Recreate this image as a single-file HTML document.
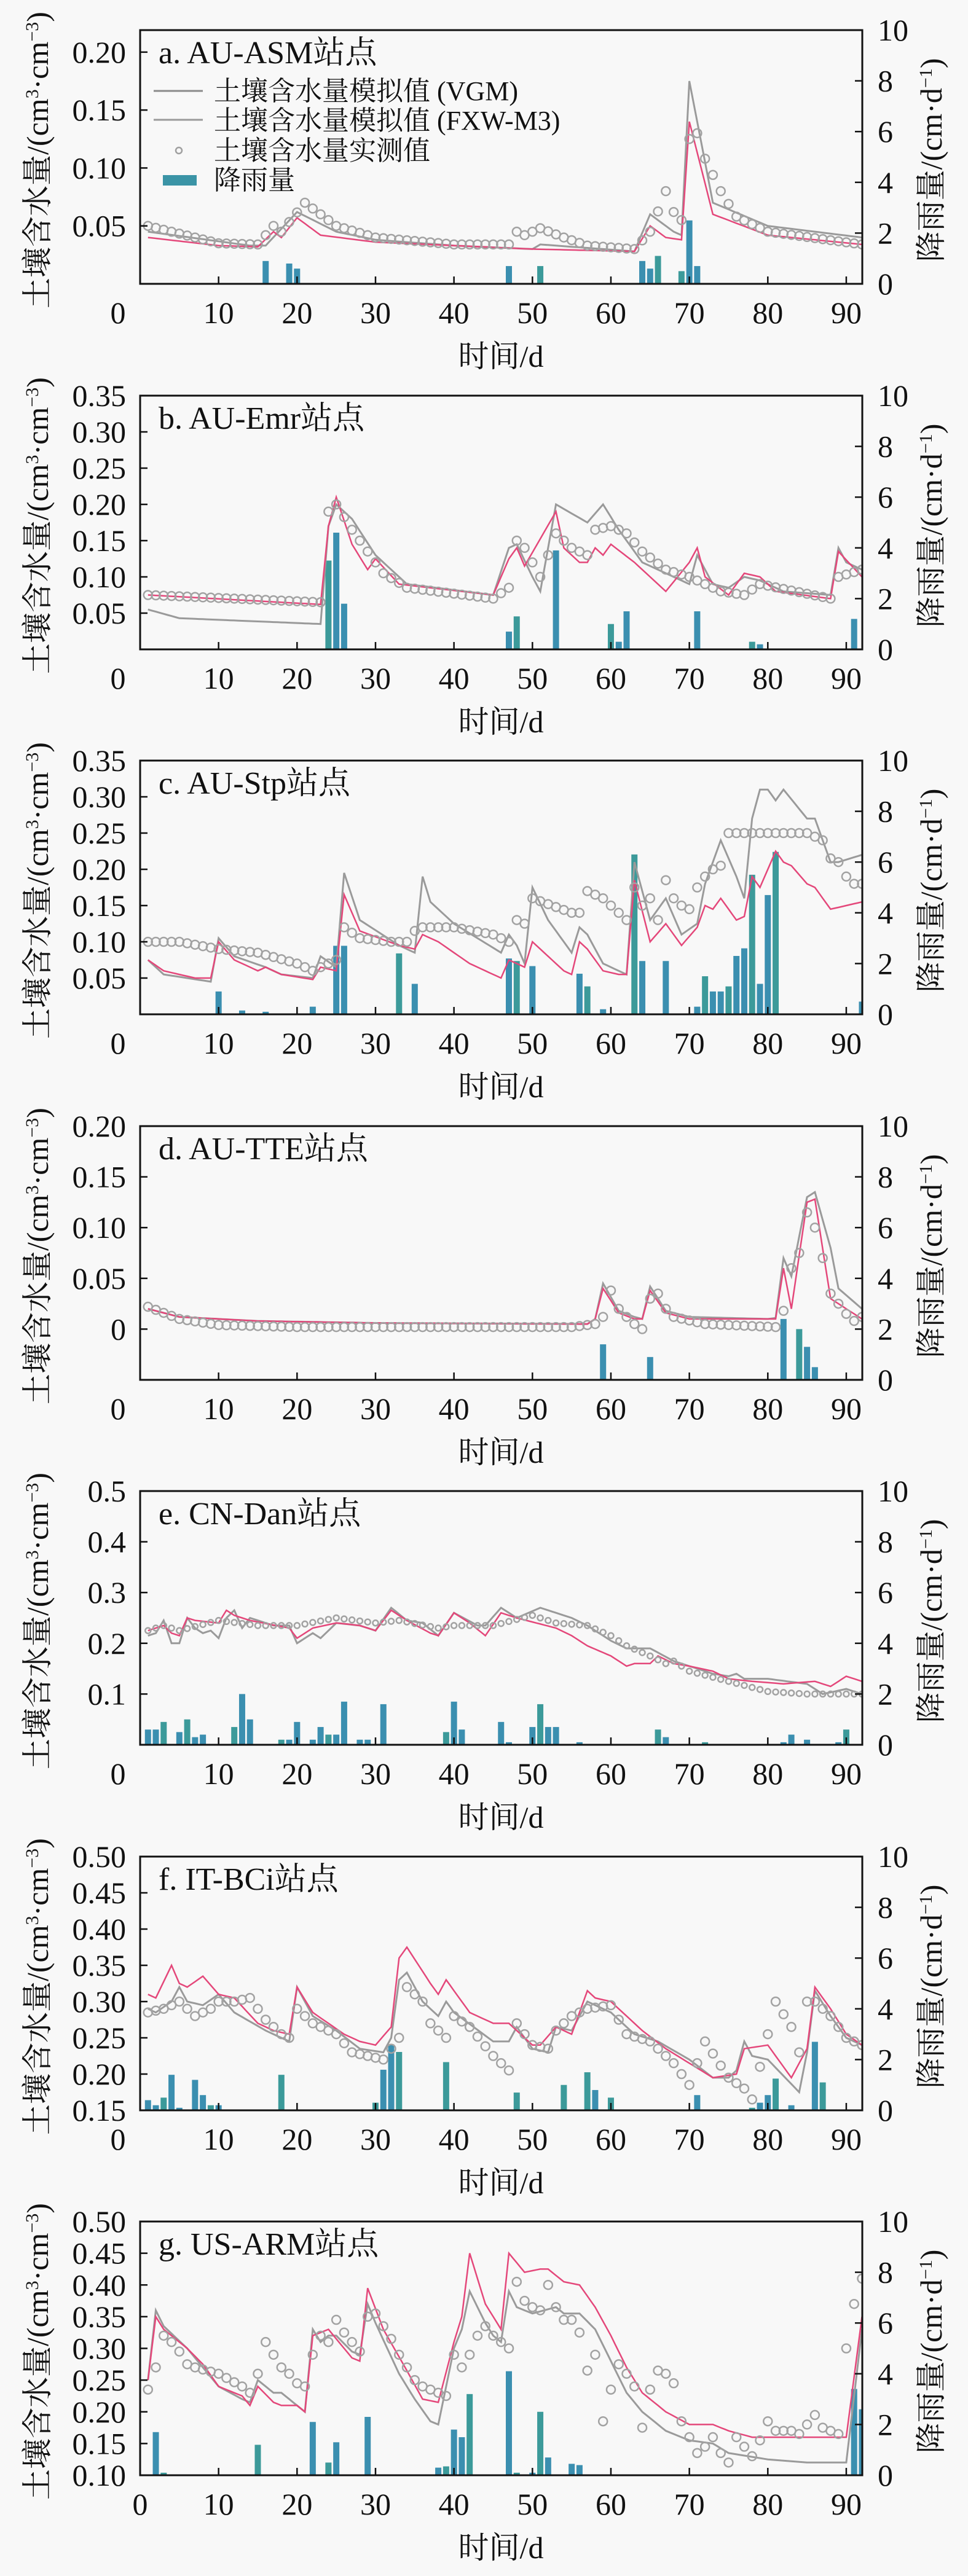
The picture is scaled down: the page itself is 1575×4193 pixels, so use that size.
<!DOCTYPE html>
<html><head><meta charset="utf-8">
<style>
html,body{margin:0;padding:0;background:#f8f8f8;}
svg{display:block;}
text{font-family:"Liberation Serif","Noto Serif CJK SC","Noto Sans CJK SC",serif;fill:#111;}
</style></head>
<body>
<svg id="s" width="1575" height="4193" xmlns="http://www.w3.org/2000/svg">
<rect width="1575" height="4193" fill="#f8f8f8"/>
<g id="static">
<text x="258" y="103" font-size="52">a. AU-ASM站点</text>
<text x="258" y="698" font-size="52">b. AU-Emr站点</text>
<text x="258" y="1292" font-size="52">c. AU-Stp站点</text>
<text x="258" y="1887" font-size="52">d. AU-TTE站点</text>
<text x="258" y="2481" font-size="52">e. CN-Dan站点</text>
<text x="258" y="3076" font-size="52">f. IT-BCi站点</text>
<text x="258" y="3670" font-size="52">g. US-ARM站点</text>
<line x1="250" y1="148" x2="330" y2="148" stroke="#8a8a8a" stroke-width="3"/>
<line x1="250" y1="195" x2="330" y2="195" stroke="#9a9a9a" stroke-width="3"/>
<circle cx="291" cy="245" r="5" fill="none" stroke="#a0a0a0" stroke-width="2.5"/>
<rect x="265" y="285" width="55" height="17" fill="#3b94a6"/>
<text x="348" y="163" font-size="44">土壤含水量模拟值 (VGM)</text>
<text x="348" y="211" font-size="44">土壤含水量模拟值 (FXW-M3)</text>
<text x="348" y="260" font-size="44">土壤含水量实测值</text>
<text x="348" y="308" font-size="44">降雨量</text>
</g>
<g id="dyn"></g>
</svg>
<script>
var NS="http://www.w3.org/2000/svg";
var dyn=document.getElementById("dyn");
function el(t,a,p){var e=document.createElementNS(NS,t);for(var k in a)e.setAttribute(k,a[k]);(p||dyn).appendChild(e);return e;}
function txt(x,y,s,sz,anc,rot){var a={x:x,y:y,"font-size":sz};if(anc)a["text-anchor"]=anc;if(rot)a.transform=rot;var e=el("text",a);e.textContent=s;return e;}
var L=228,R=1403,H=413;
function X(d){return L+d*12.766;}
function interp(pts,d){if(d<=pts[0][0])return pts[0][1];for(var i=1;i<pts.length;i++){if(d<=pts[i][0]){var a=pts[i-1],b=pts[i];return a[1]+(b[1]-a[1])*(d-a[0])/(b[0]-a[0]);}}return pts[pts.length-1][1];}
var P=[
{ymin:0,ymax:0.219,ticks:[[0.05,"0.05"],[0.10,"0.10"],[0.15,"0.15"],[0.20,"0.20"]],r:7,
gray:[[1,0.045],[14,0.033],[16,0.033],[20,0.062],[25,0.045],[30,0.038],[40,0.033],[50,0.030],[51,0.034],[53,0.033],[63,0.028],[65,0.060],[68,0.045],[69,0.042],[70,0.175],[73,0.070],[80,0.050],[92,0.040]],
pink:[[1,0.040],[10,0.033],[15,0.032],[17,0.045],[18,0.040],[20,0.057],[23,0.042],[30,0.036],[50,0.030],[63,0.028],[65,0.050],[67,0.040],[69,0.038],[70,0.140],[73,0.060],[80,0.042],[92,0.034]],
obs:[[1,0.050],[10,0.035],[15,0.034],[17,0.050],[18,0.045],[21,0.070],[25,0.050],[30,0.040],[40,0.034],[47,0.034],[48,0.045],[49,0.042],[51,0.048],[54,0.040],[57,0.033],[63,0.030],[65,0.045],[67,0.080],[68,0.062],[69,0.055],[70,0.125],[71,0.130],[72,0.108],[74,0.080],[76,0.058],[80,0.045],[92,0.034]],
bars:[[16,0.9],[19,0.8],[20,0.6],[47,0.7],[51,0.7],[64,0.9],[65,0.6],[66,1.1],[69,0.5],[70,2.5],[71,0.7]]},
{ymin:0,ymax:0.35,ticks:[[0.05,"0.05"],[0.10,"0.10"],[0.15,"0.15"],[0.20,"0.20"],[0.25,"0.25"],[0.30,"0.30"],[0.35,"0.35"]],r:7,
gray:[[1,0.055],[5,0.043],[23,0.035],[24,0.17],[25,0.2],[27,0.18],[30,0.13],[34,0.09],[45,0.075],[47,0.14],[48,0.145],[50,0.1],[51,0.08],[53,0.2],[57,0.175],[59,0.2],[61,0.165],[64,0.12],[70,0.09],[71,0.13],[73,0.09],[75,0.085],[77,0.1],[79,0.095],[82,0.08],[88,0.075],[89,0.14],[90,0.12],[92,0.11]],
pink:[[1,0.075],[23,0.062],[24,0.17],[25,0.21],[27,0.145],[29,0.11],[30,0.125],[33,0.09],[45,0.075],[47,0.125],[48,0.14],[49,0.115],[53,0.19],[54,0.14],[56,0.12],[57,0.12],[58,0.14],[59,0.13],[60,0.145],[63,0.12],[67,0.08],[70,0.12],[71,0.14],[72,0.1],[75,0.075],[77,0.105],[79,0.1],[81,0.08],[88,0.07],[89,0.135],[92,0.10]],
obs:[[1,0.075],[23,0.065],[24,0.19],[25,0.2],[27,0.165],[29,0.135],[31,0.105],[34,0.085],[45,0.07],[47,0.085],[48,0.15],[49,0.14],[50,0.12],[51,0.1],[53,0.16],[55,0.14],[57,0.13],[58,0.165],[60,0.17],[62,0.16],[64,0.135],[67,0.11],[70,0.1],[74,0.08],[77,0.075],[79,0.09],[88,0.07],[89,0.1],[92,0.11]],
bars:[[24,3.5],[25,4.6],[26,1.8],[47,0.7],[48,1.3],[53,3.9],[60,1.0],[61,0.3],[62,1.5],[71,1.5],[78,0.3],[79,0.2],[91,1.2]]},
{ymin:0,ymax:0.35,ticks:[[0.05,"0.05"],[0.10,"0.10"],[0.15,"0.15"],[0.20,"0.20"],[0.25,"0.25"],[0.30,"0.30"],[0.35,"0.35"]],r:7,
gray:[[1,0.075],[3,0.055],[9,0.045],[10,0.105],[12,0.08],[16,0.065],[18,0.055],[22,0.05],[23,0.08],[25,0.065],[26,0.195],[28,0.13],[33,0.095],[35,0.085],[36,0.19],[37,0.155],[40,0.125],[46,0.085],[47,0.11],[48,0.095],[49,0.07],[50,0.175],[52,0.13],[55,0.085],[56,0.12],[57,0.11],[59,0.07],[61,0.06],[62,0.055],[63,0.21],[65,0.13],[67,0.16],[69,0.11],[71,0.125],[72,0.18],[74,0.24],[76,0.19],[77,0.16],[78,0.27],[79,0.31],[80,0.31],[81,0.295],[82,0.31],[85,0.27],[86,0.27],[88,0.21],[89,0.21],[92,0.22]],
pink:[[1,0.075],[3,0.06],[7,0.05],[9,0.05],[10,0.1],[12,0.075],[15,0.06],[16,0.065],[18,0.055],[22,0.048],[23,0.065],[25,0.06],[26,0.165],[28,0.115],[33,0.095],[35,0.09],[36,0.11],[38,0.1],[42,0.07],[46,0.05],[47,0.075],[48,0.07],[49,0.065],[50,0.1],[52,0.08],[54,0.06],[55,0.055],[56,0.1],[57,0.09],[59,0.06],[61,0.055],[62,0.055],[63,0.185],[65,0.1],[67,0.125],[69,0.095],[71,0.12],[72,0.15],[73,0.145],[74,0.16],[76,0.13],[77,0.135],[78,0.19],[79,0.175],[81,0.225],[82,0.21],[83,0.205],[85,0.18],[86,0.175],[88,0.145],[92,0.155]],
obs:[[1,0.1],[5,0.1],[10,0.09],[15,0.085],[20,0.07],[22,0.06],[23,0.065],[25,0.075],[26,0.12],[28,0.105],[32,0.1],[34,0.1],[35,0.115],[36,0.12],[40,0.12],[45,0.11],[47,0.1],[48,0.13],[49,0.125],[50,0.16],[55,0.14],[56,0.14],[57,0.17],[59,0.16],[61,0.14],[62,0.13],[63,0.175],[64,0.15],[65,0.16],[66,0.13],[67,0.185],[68,0.16],[69,0.15],[70,0.145],[71,0.175],[72,0.19],[73,0.2],[74,0.205],[75,0.25],[85,0.25],[87,0.24],[88,0.215],[89,0.21],[90,0.19],[91,0.18],[92,0.18]],
bars:[[10,0.9],[13,0.15],[16,0.1],[22,0.3],[25,2.7],[26,2.7],[33,2.4],[35,1.2],[47,2.2],[48,2.1],[50,1.9],[56,1.6],[57,1.1],[59,0.2],[63,6.3],[64,2.1],[67,2.1],[71,0.3],[72,1.5],[73,0.9],[74,0.9],[75,1.1],[76,2.3],[77,2.6],[78,5.5],[79,1.2],[80,4.7],[81,6.4],[92,0.5]]},
{ymin:-0.05,ymax:0.20,ticks:[[0,"0"],[0.05,"0.05"],[0.10,"0.10"],[0.15,"0.15"],[0.20,"0.20"]],r:7,
gray:[[1,0.02],[5,0.012],[15,0.008],[30,0.006],[57,0.005],[58,0.01],[59,0.045],[61,0.018],[63,0.012],[64,0.01],[65,0.042],[67,0.018],[70,0.012],[80,0.01],[81,0.011],[82,0.07],[83,0.052],[85,0.13],[86,0.135],[88,0.08],[89,0.04],[92,0.02]],
pink:[[1,0.02],[5,0.012],[15,0.008],[30,0.006],[57,0.005],[58,0.01],[59,0.04],[61,0.016],[63,0.01],[64,0.01],[65,0.038],[67,0.016],[70,0.01],[81,0.01],[82,0.06],[83,0.02],[85,0.125],[86,0.128],[88,0.03],[92,0.01]],
obs:[[1,0.022],[5,0.01],[10,0.004],[20,0.002],[55,0.002],[58,0.005],[59,0.012],[60,0.038],[61,0.02],[62,0.012],[63,0.005],[64,0.0],[65,0.03],[66,0.035],[67,0.02],[68,0.012],[72,0.005],[81,0.002],[82,0.018],[83,0.06],[84,0.075],[85,0.115],[86,0.1],[87,0.07],[88,0.035],[89,0.025],[90,0.015],[91,0.008],[92,0.012]],
bars:[[59,1.4],[65,0.9],[82,2.4],[84,2.0],[85,1.3],[86,0.5]]},
{ymin:0,ymax:0.5,ticks:[[0.1,"0.1"],[0.2,"0.2"],[0.3,"0.3"],[0.4,"0.4"],[0.5,"0.5"]],r:4.5,
gray:[[1,0.215],[2,0.22],[3,0.245],[4,0.2],[5,0.2],[6,0.25],[7,0.23],[8,0.22],[9,0.225],[10,0.21],[11,0.25],[12,0.265],[13,0.23],[14,0.25],[17,0.235],[19,0.235],[20,0.2],[22,0.22],[23,0.21],[25,0.24],[28,0.235],[30,0.225],[32,0.27],[34,0.245],[36,0.24],[38,0.215],[40,0.26],[43,0.235],[44,0.235],[46,0.27],[48,0.25],[51,0.27],[52,0.265],[55,0.25],[57,0.235],[60,0.205],[62,0.19],[63,0.19],[65,0.19],[68,0.165],[70,0.155],[73,0.14],[75,0.135],[76,0.14],[77,0.13],[80,0.13],[85,0.12],[87,0.1],[90,0.11],[92,0.1]],
pink:[[1,0.225],[3,0.235],[4,0.22],[5,0.215],[6,0.25],[7,0.245],[10,0.24],[11,0.265],[12,0.255],[14,0.245],[19,0.23],[20,0.21],[22,0.23],[25,0.24],[28,0.235],[30,0.225],[32,0.265],[34,0.245],[37,0.22],[38,0.215],[40,0.26],[42,0.24],[44,0.215],[46,0.26],[48,0.25],[53,0.23],[55,0.215],[57,0.195],[60,0.175],[62,0.155],[63,0.16],[65,0.16],[66,0.175],[68,0.16],[70,0.155],[73,0.145],[75,0.13],[78,0.125],[82,0.12],[86,0.125],[88,0.115],[90,0.135],[92,0.125]],
obs:[[1,0.225],[3,0.235],[5,0.225],[10,0.245],[15,0.235],[20,0.235],[25,0.25],[30,0.24],[33,0.245],[38,0.23],[40,0.235],[45,0.235],[50,0.255],[53,0.24],[57,0.235],[60,0.215],[62,0.195],[65,0.175],[67,0.16],[68,0.165],[70,0.145],[75,0.125],[80,0.105],[85,0.1],[92,0.1]],
bars:[[1,0.6],[2,0.6],[3,0.9],[5,0.5],[6,1.0],[7,0.3],[8,0.4],[12,0.7],[13,2.0],[14,1.0],[18,0.2],[19,0.2],[20,0.9],[22,0.2],[23,0.7],[24,0.4],[25,0.4],[26,1.7],[28,0.2],[29,0.2],[31,1.6],[39,0.5],[40,1.7],[41,0.6],[46,0.9],[47,0.1],[50,0.7],[51,1.6],[52,0.7],[53,0.7],[56,0.1],[66,0.6],[67,0.3],[72,0.1],[82,0.1],[83,0.4],[85,0.2],[89,0.1],[90,0.6]]},
{ymin:0.15,ymax:0.5,ticks:[[0.15,"0.15"],[0.20,"0.20"],[0.25,"0.25"],[0.30,"0.30"],[0.35,"0.35"],[0.40,"0.40"],[0.45,"0.45"],[0.50,"0.50"]],r:7,
gray:[[1,0.29],[2,0.285],[4,0.3],[5,0.32],[6,0.3],[8,0.295],[10,0.31],[12,0.285],[16,0.26],[18,0.25],[19,0.245],[20,0.32],[22,0.28],[25,0.26],[28,0.235],[31,0.23],[32,0.25],[33,0.33],[34,0.34],[36,0.3],[38,0.28],[39,0.3],[40,0.285],[45,0.245],[47,0.245],[48,0.265],[50,0.235],[52,0.23],[53,0.265],[55,0.26],[57,0.3],[58,0.295],[60,0.285],[63,0.255],[66,0.245],[70,0.22],[73,0.195],[75,0.195],[76,0.205],[77,0.245],[78,0.225],[80,0.22],[84,0.175],[85,0.23],[86,0.315],[88,0.28],[90,0.25],[92,0.24]],
pink:[[1,0.31],[2,0.305],[4,0.35],[5,0.325],[6,0.32],[8,0.335],[10,0.31],[12,0.305],[15,0.27],[17,0.26],[19,0.255],[20,0.32],[22,0.285],[26,0.255],[28,0.245],[30,0.24],[32,0.265],[33,0.36],[34,0.375],[37,0.325],[38,0.31],[39,0.33],[42,0.285],[45,0.27],[47,0.27],[48,0.26],[50,0.24],[51,0.24],[53,0.265],[55,0.255],[57,0.315],[58,0.305],[60,0.3],[64,0.26],[67,0.235],[70,0.215],[73,0.195],[76,0.2],[77,0.235],[80,0.24],[83,0.195],[85,0.235],[86,0.32],[88,0.29],[90,0.255],[92,0.24]],
obs:[[1,0.285],[3,0.29],[5,0.3],[7,0.28],[9,0.29],[10,0.3],[12,0.3],[14,0.305],[16,0.275],[18,0.255],[19,0.25],[20,0.29],[22,0.27],[25,0.255],[27,0.23],[29,0.225],[31,0.22],[32,0.235],[33,0.25],[34,0.32],[35,0.31],[36,0.3],[37,0.27],[39,0.25],[40,0.28],[42,0.265],[45,0.225],[47,0.205],[48,0.27],[50,0.24],[52,0.235],[53,0.26],[55,0.28],[57,0.29],[60,0.295],[62,0.255],[65,0.245],[68,0.215],[70,0.185],[72,0.245],[75,0.195],[77,0.18],[78,0.165],[80,0.255],[81,0.3],[83,0.265],[84,0.23],[85,0.3],[86,0.3],[88,0.28],[90,0.25],[92,0.24]],
bars:[[1,0.4],[2,0.2],[3,0.5],[4,1.4],[5,0.1],[7,1.2],[8,0.6],[9,0.2],[10,0.2],[18,1.4],[30,0.3],[31,1.6],[32,2.6],[33,2.3],[39,1.9],[48,0.7],[54,1.0],[57,1.5],[58,0.8],[60,0.5],[71,0.6],[78,0.1],[79,0.3],[80,0.6],[81,1.25],[83,0.2],[86,2.7],[87,1.1]]},
{ymin:0.10,ymax:0.50,ticks:[[0.10,"0.10"],[0.15,"0.15"],[0.20,"0.20"],[0.25,"0.25"],[0.30,"0.30"],[0.35,"0.35"],[0.40,"0.40"],[0.45,"0.45"],[0.50,"0.50"]],r:7,
gray:[[1,0.25],[2,0.36],[3,0.335],[6,0.3],[10,0.24],[13,0.22],[14,0.215],[15,0.25],[17,0.23],[18,0.23],[20,0.21],[21,0.2],[22,0.33],[23,0.31],[24,0.32],[25,0.32],[27,0.295],[28,0.29],[29,0.37],[30,0.34],[33,0.26],[35,0.22],[37,0.185],[38,0.18],[40,0.3],[41,0.33],[42,0.39],[44,0.34],[45,0.32],[46,0.31],[47,0.39],[48,0.365],[50,0.355],[53,0.365],[54,0.355],[56,0.355],[58,0.33],[60,0.28],[62,0.23],[64,0.2],[67,0.17],[70,0.155],[73,0.15],[75,0.135],[80,0.125],[85,0.12],[90,0.12],[92,0.33]],
pink:[[1,0.25],[2,0.35],[3,0.33],[6,0.3],[8,0.275],[10,0.24],[13,0.225],[14,0.21],[15,0.24],[17,0.215],[18,0.21],[20,0.21],[21,0.2],[22,0.32],[24,0.33],[27,0.285],[28,0.28],[29,0.395],[31,0.33],[34,0.265],[36,0.22],[38,0.215],[40,0.31],[41,0.35],[42,0.45],[44,0.37],[45,0.35],[46,0.33],[47,0.45],[49,0.42],[51,0.425],[52,0.425],[54,0.405],[56,0.4],[58,0.365],[60,0.32],[62,0.27],[64,0.23],[67,0.2],[70,0.18],[73,0.18],[75,0.17],[78,0.16],[80,0.16],[85,0.16],[90,0.16],[92,0.35]],
obs:[[1,0.235],[2,0.27],[3,0.32],[4,0.31],[5,0.295],[6,0.275],[7,0.27],[10,0.26],[13,0.24],[14,0.23],[15,0.26],[16,0.31],[17,0.29],[18,0.27],[19,0.26],[20,0.245],[21,0.24],[22,0.29],[23,0.32],[24,0.31],[25,0.345],[26,0.325],[27,0.31],[28,0.295],[29,0.35],[30,0.355],[31,0.335],[32,0.315],[33,0.29],[34,0.27],[35,0.25],[36,0.24],[37,0.235],[38,0.23],[39,0.225],[40,0.29],[41,0.27],[42,0.29],[43,0.32],[44,0.335],[45,0.32],[46,0.31],[47,0.3],[48,0.405],[49,0.375],[50,0.365],[51,0.36],[52,0.4],[53,0.365],[54,0.345],[55,0.345],[56,0.325],[57,0.265],[58,0.29],[59,0.185],[60,0.235],[61,0.275],[62,0.26],[63,0.24],[64,0.175],[65,0.235],[66,0.265],[67,0.26],[68,0.245],[69,0.185],[70,0.16],[71,0.135],[72,0.145],[73,0.16],[74,0.135],[75,0.12],[76,0.16],[77,0.145],[78,0.13],[79,0.155],[80,0.185],[81,0.17],[82,0.17],[83,0.17],[84,0.165],[85,0.18],[86,0.195],[87,0.175],[88,0.17],[89,0.165],[90,0.3],[91,0.37],[92,0.41]],
bars:[[2,1.7],[3,0.1],[15,1.2],[22,2.1],[24,0.5],[25,1.3],[29,2.3],[38,0.3],[39,0.35],[40,1.8],[41,1.5],[42,3.2],[47,4.1],[48,0.1],[50,0.1],[51,2.5],[52,0.7],[55,0.45],[56,0.4],[91,3.4],[92,2.6]]}
];
P.forEach(function(p,i){
  var T=Math.round(49+594.5*i),B=T+H;
  function Y(v){return B-(v-p.ymin)/(p.ymax-p.ymin)*H;}
  var cid="c"+i;
  var cp=el("clipPath",{id:cid});el("rect",{x:L,y:T,width:R-L,height:H},cp);
  var g=el("g",{"clip-path":"url(#"+cid+")"});
  p.bars.forEach(function(b){var h=b[1]*H/10;el("rect",{x:X(b[0])-5,y:B-h,width:10,height:h,fill:(b[0]%3==0?"#3c9a9a":"#3b8fb0")},g);});
  function path(pts){var s="";for(var d=1;d<=92;d+=0.5){s+=(s?"L":"M")+X(d).toFixed(1)+","+Y(interp(pts,d)).toFixed(1);}return s;}
  el("path",{d:path(p.gray),fill:"none",stroke:"#46b89a","stroke-width":2},g);
  el("path",{d:path(p.gray),fill:"none",stroke:"#9a9a9a","stroke-width":3},g);
  el("path",{d:path(p.pink),fill:"none",stroke:"#e4477a","stroke-width":2.5},g);
  for(var d=1;d<=92;d++){el("circle",{cx:X(d),cy:Y(interp(p.obs,d)),r:p.r,fill:"none",stroke:"#a2a2a2","stroke-width":2.5},g);}
  el("rect",{x:L,y:T,width:R-L,height:H,fill:"none",stroke:"#111","stroke-width":3});
  for(var k=1;k<=9;k++){el("line",{x1:X(k*10),y1:B,x2:X(k*10),y2:B-12,stroke:"#111","stroke-width":2.5});
    txt(X(k*10),B+64,String(k*10),50,"middle");}
  txt(i==6?228:192,B+64,"0",50,"middle");
  p.ticks.forEach(function(t){var y=Y(t[0]);if(Math.abs(y-B)>2&&Math.abs(y-T)>2)el("line",{x1:L,y1:y,x2:L+12,y2:y,stroke:"#111","stroke-width":2.5});
    txt(205,y+17,t[1],50,"end");});
  for(var r=0;r<=10;r+=2){var y=B-r*H/10;if(r>0&&r<10)el("line",{x1:R,y1:y,x2:R-12,y2:y,stroke:"#111","stroke-width":2.5});
    txt(1428,y+17,String(r),50,"start");}
  var cy=T+H/2;
  var t1=txt(0,0,"",50,"middle","translate(78,"+(cy+5)+") rotate(-90)");
  t1.innerHTML='土壤含水量/(cm<tspan baseline-shift="super" font-size="30">3</tspan>·cm<tspan baseline-shift="super" font-size="30">−3</tspan>)';
  var t2=txt(0,0,"",50,"middle","translate(1532,"+(cy+5)+") rotate(-90)");
  t2.innerHTML='降雨量/(cm·d<tspan baseline-shift="super" font-size="30">−1</tspan>)';
  txt(815,B+135,"时间/d",50,"middle");
});
document.getElementById("s").appendChild(document.getElementById("static"));
</script>
</body></html>
